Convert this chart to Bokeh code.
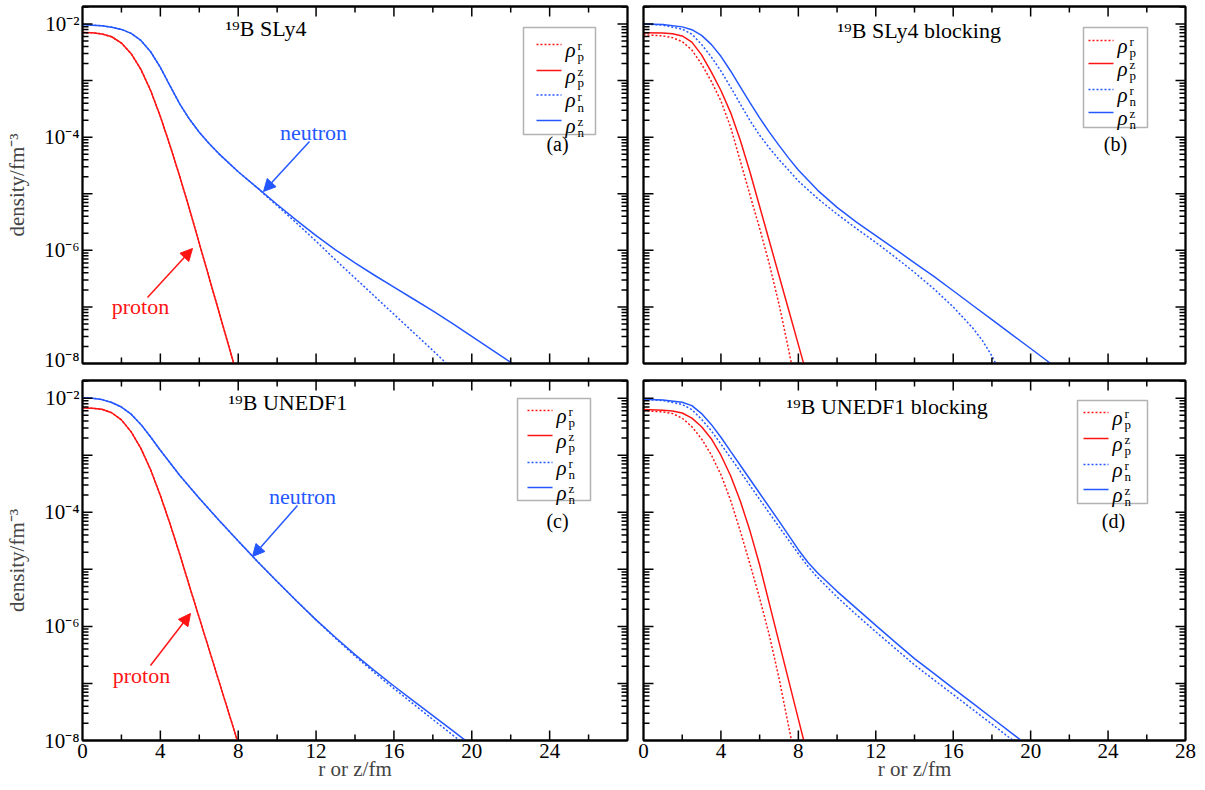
from bokeh.plotting import figure
from bokeh.models import (Range1d, FixedTicker, LinearAxis, LogAxis, Label,
                          BoxAnnotation, Arrow, NormalHead)
from bokeh.layouts import column, row
from bokeh.embed import file_html
from bokeh.resources import INLINE

FONT = "Liberation Serif"
RED = "#ff1414"
BLUE = "#2457ff"

# ---------------- axis ticks / labels ----------------
X_TICKS = [0, 4, 8, 12, 16, 20, 24, 28]
X_TICK_LABELS = ["0", "4", "8", "12", "16", "20", "24", "28"]
X_MINOR = [2, 6, 10, 14, 18, 22, 26]
Y_TICKS = [1e-8, 1e-7, 1e-6, 1e-5, 1e-4, 1e-3, 1e-2]
Y_TICK_LABELS = ["10⁻⁸", "", "10⁻⁶", "", "10⁻⁴", "", "10⁻²"]
Y_MINOR = [k * 10.0 ** e for e in range(-8, -1) for k in range(2, 10)]

TITLES = ["¹⁹B SLy4", "¹⁹B SLy4 blocking", "¹⁹B UNEDF1", "¹⁹B UNEDF1 blocking"]
PANEL_TAGS = ["(a)", "(b)", "(c)", "(d)"]
LEG_SUP = ["r", "z", "r", "z"]
LEG_SUB = ["p", "p", "n", "n"]

# ---------------- data (r or z in fm, density in fm^-3) ----------------
# (a) SLy4
a_x_p = [0, 0.5, 1, 1.5, 2, 2.5, 3, 3.5, 4, 4.5, 5, 5.5, 6, 7, 7.75, 7.85]
a_pr = [7.08e-3, 7.00e-3, 6.68e-3, 5.96e-3, 4.62e-3, 2.99e-3, 1.58e-3, 6.68e-4,
        2.32e-4, 7.08e-5, 2.00e-5, 5.31e-6, 1.33e-6, 8.41e-8, 1.06e-8, 8.04e-9]
a_pz = [7.08e-3, 7.00e-3, 6.68e-3, 5.96e-3, 4.62e-3, 2.99e-3, 1.58e-3, 6.68e-4,
        2.32e-4, 7.08e-5, 2.00e-5, 5.31e-6, 1.33e-6, 8.41e-8, 1.06e-8, 8.04e-9]
a_x_nr = [0, 0.5, 1, 1.5, 2, 2.5, 3, 3.5, 4, 4.5, 5, 5.5, 6, 6.5, 7, 8, 9, 9.5,
          10, 11, 12, 13, 14, 15, 16, 17, 18, 18.7, 18.8]
a_nr = [9.77e-3, 9.55e-3, 9.33e-3, 8.81e-3, 8.04e-3, 6.84e-3, 5.13e-3, 3.24e-3,
        1.72e-3, 8.04e-4, 3.85e-4, 2.07e-4, 1.22e-4, 7.76e-5, 5.13e-5, 2.45e-5,
        1.26e-5, 8.71e-6, 6.17e-6, 3.02e-6, 1.45e-6, 6.76e-7, 3.24e-7, 1.55e-7,
        7.41e-8, 3.55e-8, 1.70e-8, 1.00e-8, 9.33e-9]
a_x_nz = [0, 0.5, 1, 1.5, 2, 2.5, 3, 3.5, 4, 4.5, 5, 5.5, 6, 6.5, 7, 8, 9, 10,
          11, 12, 13, 14, 15, 16, 17, 18, 19, 20, 21, 22, 22.2]
a_nz = [9.77e-3, 9.55e-3, 9.33e-3, 8.81e-3, 8.04e-3, 6.84e-3, 5.13e-3, 3.24e-3,
        1.72e-3, 8.04e-4, 3.85e-4, 2.07e-4, 1.22e-4, 7.76e-5, 5.13e-5, 2.45e-5,
        1.26e-5, 6.46e-6, 3.39e-6, 1.82e-6, 1.02e-6, 6.03e-7, 3.63e-7, 2.24e-7,
        1.38e-7, 8.51e-8, 5.13e-8, 3.02e-8, 1.78e-8, 1.05e-8, 9.33e-9]

# (b) SLy4 blocking
b_x_pr = [0, 1, 1.5, 2, 2.5, 3, 3.5, 4, 4.5, 5, 5.5, 6, 6.5, 7, 7.5, 7.6, 7.65]
b_pr = [6.46e-3, 6.17e-3, 5.75e-3, 4.90e-3, 3.47e-3, 1.95e-3, 9.77e-4, 4.37e-4,
        1.51e-4, 3.80e-5, 9.55e-6, 2.45e-6, 5.75e-7, 1.12e-7, 1.74e-8, 1.17e-8,
        9.55e-9]
b_x_pz = [0, 1, 1.5, 2, 2.5, 3, 3.5, 4, 4.5, 5, 5.5, 6, 6.5, 7, 7.5, 8, 8.25, 8.3]
b_pz = [7.00e-3, 6.92e-3, 6.76e-3, 6.17e-3, 4.79e-3, 2.85e-3, 1.43e-3, 6.68e-4,
        2.72e-4, 8.81e-5, 2.43e-5, 5.96e-6, 1.46e-6, 3.59e-7, 8.81e-8, 2.16e-8,
        1.07e-8, 9.33e-9]
b_x_nr = [0, 1, 2, 2.5, 3, 3.5, 4, 4.5, 5, 5.5, 6, 6.5, 7, 8, 9, 10, 11, 12, 13,
          14, 15, 16, 17, 17.5, 18, 18.2, 18.3]
b_nr = [1.00e-2, 9.55e-3, 8.13e-3, 6.61e-3, 4.37e-3, 2.63e-3, 1.48e-3, 7.67e-4,
        3.85e-4, 1.97e-4, 1.08e-4, 6.46e-5, 4.03e-5, 1.68e-5, 8.22e-6, 4.37e-6,
        2.43e-6, 1.38e-6, 7.59e-7, 4.07e-7, 2.09e-7, 1.00e-7, 4.27e-8, 2.57e-8,
        1.36e-8, 9.89e-9, 8.32e-9]
b_x_nz = [0, 1, 2, 2.5, 3, 3.5, 4, 4.5, 5, 5.5, 6, 6.5, 7, 7.5, 8, 9, 10, 11, 12,
          13, 14, 15, 16, 17, 18, 19, 20, 21, 21.2]
b_nz = [1.00e-2, 9.77e-3, 8.91e-3, 7.94e-3, 6.31e-3, 4.37e-3, 2.69e-3, 1.48e-3,
        7.76e-4, 4.07e-4, 2.19e-4, 1.23e-4, 7.16e-5, 4.27e-5, 2.63e-5, 1.15e-5,
        5.75e-6, 3.16e-6, 1.82e-6, 1.05e-6, 6.03e-7, 3.47e-7, 1.93e-7, 1.07e-7,
        5.96e-8, 3.31e-8, 1.84e-8, 1.02e-8, 9.12e-9]

# (c) UNEDF1
c_x_p = [0, 0.5, 1, 1.5, 2, 2.5, 3, 3.5, 4, 4.5, 5, 5.5, 6, 7, 8]
c_pr = [6.76e-3, 6.68e-3, 6.38e-3, 5.56e-3, 4.17e-3, 2.57e-3, 1.32e-3, 5.56e-4,
        1.97e-4, 6.24e-5, 1.82e-5, 5.01e-6, 1.41e-6, 1.12e-7, 8.91e-9]
c_pz = [6.76e-3, 6.68e-3, 6.38e-3, 5.56e-3, 4.17e-3, 2.57e-3, 1.32e-3, 5.56e-4,
        1.97e-4, 6.24e-5, 1.82e-5, 5.01e-6, 1.41e-6, 1.12e-7, 8.91e-9]
c_x_nr = [0, 0.5, 1, 1.5, 2, 2.5, 3, 3.5, 4, 5, 6, 7, 8, 9, 10, 11, 12, 13, 14,
          15, 16, 17, 18, 19, 19.5]
c_nr = [1.02e-2, 1.00e-2, 9.44e-3, 8.41e-3, 7.00e-3, 5.25e-3, 3.47e-3, 2.09e-3,
        1.22e-3, 4.42e-4, 1.76e-4, 7.33e-5, 3.13e-5, 1.36e-5, 6.10e-6, 2.79e-6,
        1.30e-6, 6.17e-7, 3.02e-7, 1.55e-7, 8.13e-8, 4.37e-8, 2.34e-8, 1.26e-8,
        9.33e-9]
c_x_nz = [0, 0.5, 1, 1.5, 2, 2.5, 3, 3.5, 4, 5, 6, 7, 8, 9, 10, 11, 12, 13, 14,
          15, 16, 17, 18, 19, 19.7, 19.8]
c_nz = [1.02e-2, 1.00e-2, 9.44e-3, 8.41e-3, 7.00e-3, 5.25e-3, 3.47e-3, 2.09e-3,
        1.22e-3, 4.42e-4, 1.76e-4, 7.33e-5, 3.13e-5, 1.36e-5, 6.10e-6, 2.79e-6,
        1.30e-6, 6.38e-7, 3.20e-7, 1.68e-7, 9.02e-8, 4.95e-8, 2.72e-8, 1.50e-8,
        9.84e-9, 9.23e-9]

# (d) UNEDF1 blocking
d_x_pr = [0, 1, 1.5, 2, 2.5, 3, 3.5, 4, 4.5, 5, 5.5, 6, 6.5, 7, 7.5, 7.65, 7.7]
d_pr = [6.03e-3, 5.75e-3, 5.37e-3, 4.47e-3, 3.16e-3, 1.93e-3, 1.02e-3, 4.57e-4,
        1.62e-4, 4.68e-5, 1.24e-5, 3.13e-6, 7.00e-7, 1.24e-7, 1.76e-8, 9.77e-9,
        7.94e-9]
d_x_pz = [0, 1, 1.5, 2, 2.5, 3, 3.5, 4, 4.5, 5, 5.5, 6, 6.5, 7, 8, 8.28, 8.35]
d_pz = [6.31e-3, 6.17e-3, 5.96e-3, 5.50e-3, 4.47e-3, 3.16e-3, 1.95e-3, 1.00e-3,
        4.37e-4, 1.58e-4, 4.73e-5, 1.19e-5, 2.51e-6, 5.31e-7, 2.37e-8, 1.00e-8,
        7.94e-9]
d_x_nr = [0, 1, 2, 2.5, 3, 3.5, 4, 4.5, 5, 6, 7, 8, 8.5, 9, 10, 11, 12, 13, 14,
          15, 16, 17, 18, 19, 19.2]
d_nr = [9.55e-3, 9.12e-3, 7.76e-3, 6.31e-3, 4.27e-3, 2.69e-3, 1.57e-3, 9.02e-4,
        5.19e-4, 1.68e-4, 5.56e-5, 1.88e-5, 1.12e-5, 7.16e-6, 3.27e-6, 1.60e-6,
        8.04e-7, 4.12e-7, 2.11e-7, 1.16e-7, 6.38e-8, 3.51e-8, 1.93e-8, 1.06e-8,
        9.33e-9]
d_x_nz = [0, 1, 2, 2.5, 3, 3.5, 4, 4.5, 5, 6, 7, 8, 8.5, 9, 10, 11, 12, 13, 14,
          15, 16, 17, 18, 19, 19.5, 19.6]
d_nz = [9.55e-3, 9.33e-3, 8.51e-3, 7.41e-3, 5.37e-3, 3.47e-3, 2.07e-3, 1.17e-3,
        6.68e-4, 2.16e-4, 7.00e-5, 2.21e-5, 1.32e-5, 8.61e-6, 4.12e-6, 2.07e-6,
        1.04e-6, 5.31e-7, 2.72e-7, 1.50e-7, 8.22e-8, 4.52e-8, 2.48e-8, 1.36e-8,
        1.01e-8, 9.55e-9]

SERIES = [
    [(a_x_p, a_pr), (a_x_p, a_pz), (a_x_nr, a_nr), (a_x_nz, a_nz)],
    [(b_x_pr, b_pr), (b_x_pz, b_pz), (b_x_nr, b_nr), (b_x_nz, b_nz)],
    [(c_x_p, c_pr), (c_x_p, c_pz), (c_x_nr, c_nr), (c_x_nz, c_nz)],
    [(d_x_pr, d_pr), (d_x_pz, d_pz), (d_x_nr, d_nr), (d_x_nz, d_nz)],
]
STYLES = [(RED, "2 2"), (RED, "solid"), (BLUE, "2 2"), (BLUE, "solid")]

# ---------------- layout ----------------
LOG_YMAX = -1.69
X_MAX = 28.0
Y_SPAN = LOG_YMAX + 8.0


def to_data(dx, dy, W, H):
    """frame pixel offset -> data coordinates"""
    x = dx / W * X_MAX
    ly = LOG_YMAX - dy / H * Y_SPAN
    return x, 10.0 ** ly


def style_axis(ax, show_labels, x_axis, overrides=None):
    ax.axis_line_width = 1.8
    ax.axis_line_color = "black"
    ax.major_tick_in = 0
    ax.major_tick_out = 0
    ax.minor_tick_in = 0
    ax.minor_tick_out = 0
    if x_axis:
        ax.ticker = FixedTicker(ticks=X_TICKS, minor_ticks=X_MINOR)
    else:
        ax.ticker = FixedTicker(ticks=Y_TICKS, minor_ticks=Y_MINOR)
    if show_labels:
        ax.major_label_text_font = FONT
        ax.major_label_text_font_size = "21px"
        ax.major_label_text_color = "black"
        ax.major_label_standoff = 3
        if overrides is not None:
            ax.major_label_overrides = overrides
    else:
        ax.major_label_text_font_size = "0px"
        ax.major_label_standoff = 0
        ax.major_label_overrides = {t: "" for t in (X_TICKS if x_axis else Y_TICKS)}


def make_panel(idx):
    left_col = idx in (0, 2)
    top_row = idx in (0, 1)
    W = 545 if left_col else 542
    H = 357 if top_row else 360
    bl, br = (82, 9) if left_col else (7, 13)
    bt, bb = (6, 8) if top_row else (9, 49)
    p = figure(width=bl + W + br, height=bt + H + bb,
               x_range=Range1d(0, X_MAX), y_range=Range1d(1e-8, 10.0 ** LOG_YMAX),
               y_axis_type="log", output_backend="svg", toolbar_location=None,
               min_border_left=bl, min_border_right=br,
               min_border_top=bt, min_border_bottom=bb)
    p.grid.visible = False
    p.outline_line_color = "black"
    p.outline_line_width = 1.8
    p.background_fill_color = "white"
    p.border_fill_color = "white"

    xo = {t: l for t, l in zip(X_TICKS, X_TICK_LABELS)}
    if idx == 2:
        xo[28] = ""
    yo = {t: l for t, l in zip(Y_TICKS, Y_TICK_LABELS)}
    style_axis(p.xaxis[0], not top_row, True, xo)
    style_axis(p.yaxis[0], left_col, False, yo)
    if left_col:
        p.yaxis.axis_label = "density/fm⁻³"
        p.yaxis.axis_label_text_font = FONT
        p.yaxis.axis_label_text_font_style = "normal"
        p.yaxis.axis_label_text_font_size = "21px"
        p.yaxis.axis_label_standoff = 12
    if not top_row:
        p.xaxis.axis_label = "r or z/fm"
        p.xaxis.axis_label_text_font = FONT
        p.xaxis.axis_label_text_font_style = "normal"
        p.xaxis.axis_label_text_font_size = "21px"
        p.xaxis.axis_label_standoff = -4
    top_ax = LinearAxis()
    style_axis(top_ax, False, True)
    p.add_layout(top_ax, "above")
    right_ax = LogAxis()
    style_axis(right_ax, False, False)
    p.add_layout(right_ax, "right")

    # inward tick marks on all four sides (positions from the tick arrays)
    ymin, ymax = 1e-8, 10.0 ** LOG_YMAX

    def stroke(xa, ya, xb, yb):
        p.add_layout(Arrow(start=None, end=None, x_start=xa, y_start=ya,
                           x_end=xb, y_end=yb, line_color="black",
                           line_width=1.5))

    for ticks, length in ((X_TICKS[1:-1], 10), (X_MINOR, 6)):
        up = 10.0 ** (-8.0 + length / H * Y_SPAN)
        dn = 10.0 ** (LOG_YMAX - length / H * Y_SPAN)
        for t in ticks:
            stroke(t, ymin, t, up)
            stroke(t, ymax, t, dn)
    y_minor_in = [v for v in Y_MINOR if ymin < v < ymax]
    for ticks, length in ((Y_TICKS[1:], 10), (y_minor_in, 6)):
        dx = length / W * X_MAX
        for t in ticks:
            stroke(0.0, t, dx, t)
            stroke(X_MAX, t, X_MAX - dx, t)

    # curves
    for (xs, ys), (col, dash) in zip(SERIES[idx], STYLES):
        p.line(xs, ys, line_color=col, line_width=1.5, line_dash=dash)

    def lab(dx, dy, text, size="20px", color="black", style="normal",
            align="left", baseline="middle"):
        x, y = to_data(dx, dy, W, H)
        p.add_layout(Label(x=x, y=y, text=text, text_font=FONT,
                           text_font_size=size, text_color=color,
                           text_font_style=style, text_align=align,
                           text_baseline=baseline))

    # title and panel tag
    title_pos = [(143, 22), (194, 24), (146, 22), (143, 26)][idx]
    lab(title_pos[0], title_pos[1], TITLES[idx], size="22px")
    tag_pos = [(475, 137), (472, 137), (475, 140), (470, 140)][idx]
    lab(tag_pos[0], tag_pos[1], PANEL_TAGS[idx], size="20px", align="center")

    # legend
    leg = [
        dict(box=(441, 21, 513, 128), lx=(454, 479), ys=(38, 64, 88.5, 114)),
        dict(box=(440, 21, 504, 121), lx=(445, 470), ys=(34, 57, 83, 106)),
        dict(box=(435, 18, 508, 120), lx=(445, 470), ys=(30, 55, 82, 107)),
        dict(box=(434, 20, 504, 123), lx=(440, 465), ys=(32, 58, 84, 109)),
    ][idx]
    l, t, r, b = leg["box"]
    x0, y0 = to_data(l, t, W, H)
    x1, y1 = to_data(r, b, W, H)
    p.add_layout(BoxAnnotation(left=x0, right=x1, top=y0, bottom=y1,
                               fill_alpha=0.0, line_color="black", line_width=1.5))
    for i, dy in enumerate(leg["ys"]):
        col, dash = STYLES[i]
        xa, ya = to_data(leg["lx"][0], dy, W, H)
        xb, _ = to_data(leg["lx"][1], dy, W, H)
        p.add_layout(Arrow(start=None, end=None, x_start=xa, y_start=ya,
                           x_end=xb, y_end=ya, line_color=col, line_width=1.5,
                           line_dash=dash))
        rx = leg["lx"][1] + 4
        lab(rx, dy + 5, "ρ", size="21px", style="italic", baseline="alphabetic")
        lab(rx + 12, dy + 1, LEG_SUP[i], size="13px", baseline="alphabetic")
        lab(rx + 12, dy + 12, LEG_SUB[i], size="13px", baseline="alphabetic")

    # neutron / proton annotations (left panels)
    if left_col:
        if idx == 0:
            nt, na, nb = (231, 126), (227, 135), (181, 185)
            pt, pa, pb = (58, 300), (65, 291), (110, 242)
        else:
            nt, na, nb = (220, 116), (215, 125), (170, 176)
            pt, pa, pb = (59, 295), (68, 285), (108, 233)
        for (tp, ap, bp, txt, col) in [(nt, na, nb, "neutron", BLUE),
                                       (pt, pa, pb, "proton", RED)]:
            lab(tp[0], tp[1], txt, size="22px", color=col, align="center")
            xa, ya = to_data(ap[0], ap[1], W, H)
            xb, yb = to_data(bp[0], bp[1], W, H)
            p.add_layout(Arrow(end=NormalHead(size=12, fill_color=col, line_color=col),
                               x_start=xa, y_start=ya, x_end=xb, y_end=yb,
                               line_color=col, line_width=1.5))
    return p


panels = [make_panel(i) for i in range(4)]
layout = column(row(panels[0], panels[1]), row(panels[2], panels[3]))
open("out.html", "w").write(file_html(layout, INLINE))
